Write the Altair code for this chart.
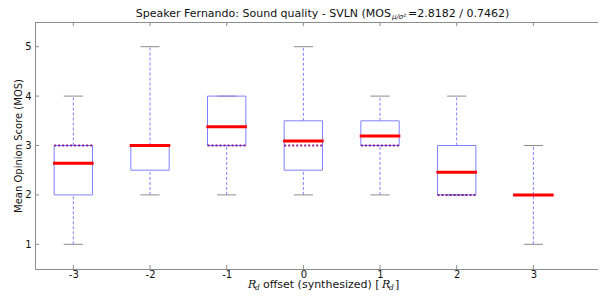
import altair as alt
import pandas as pd

# ---- data ----
offsets = [-3, -2, -1, 0, 1, 2, 3]
means = [2.64, 3.0, 3.38, 3.09, 3.19, 2.46, 2.0]
medians = [3, 3, 3, 3, 3, 2, 2]
q1 = [2, 2.5, 3, 2.5, 3, 2, 2]
q3 = [3, 3, 4, 3.5, 3.5, 3, 2]
whis_lo = [1, 2, 2, 2, 2, 2, 1]
whis_hi = [4, 5, 4, 5, 4, 4, 3]
x_ticks = [-3, -2, -1, 0, 1, 2, 3]
y_ticks = [1, 2, 3, 4, 5]

title_main = "Speaker Fernando: Sound quality - SVLN (MOS"
title_sub = "\u03bc/\u03c3\u00b2"
title_tail = " =2.8182 / 0.7462)"
y_title = "Mean Opinion Score (MOS)"

W, H = 563, 247
PAD = {"left": 27, "top": 14, "right": 0, "bottom": 21}
FONT = "DejaVu Sans"
SERIF = "DejaVu Serif"
BOX_BLUE = "#8080ff"
GRAY = "#8c8c8c"
TXT = "#111"

df = pd.DataFrame({
    "offset": offsets, "mean": means, "median": medians,
    "q1": q1, "q3": q3, "lo": whis_lo, "hi": whis_hi,
})
ticks_x = pd.DataFrame({"t": x_ticks})
ticks_y = pd.DataFrame({"t": y_ticks})
one = pd.DataFrame({"k": [0]})

xs = alt.Scale(domain=[-3.5, 3.843], nice=False, zero=False)
ys = alt.Scale(domain=[0.5, 5.5], nice=False, zero=False)

base = alt.Chart(df).transform_calculate(
    xl="datum.offset - 0.25", xr="datum.offset + 0.25",
    cl="datum.offset - 0.125", cr="datum.offset + 0.125",
    ml="datum.offset - 0.265", mr="datum.offset + 0.265",
)

x_enc = alt.X("offset:Q", scale=xs, axis=alt.Axis(
    values=x_ticks, labelExpr="'' + datum.value", grid=False, ticks=False, tickSize=0,
    domain=True, domainColor=GRAY, domainWidth=1,
    labelPadding=0, labelFont=FONT, labelFontSize=10, labelColor=TXT,
    title=None))
y_enc_axis = alt.Axis(
    values=y_ticks, labelExpr="'' + datum.value", grid=False, ticks=False, tickSize=0,
    domain=True, domainColor=GRAY, domainWidth=1,
    labelPadding=4, labelFont=FONT, labelFontSize=10, labelColor=TXT,
    title=y_title, titleFont=FONT, titleFontSize=10, titleFontWeight="normal",
    titleColor=TXT, titleAngle=-90, titleX=-17, titleY=H / 2,
    titleAlign="center", titleBaseline="middle")

whisk_hi = base.mark_rule(color=BOX_BLUE, strokeDash=[3, 2], strokeWidth=1).encode(
    x=x_enc, y=alt.Y("q3:Q", scale=ys, axis=y_enc_axis), y2="hi:Q")
whisk_lo = base.mark_rule(color=BOX_BLUE, strokeDash=[3, 2], strokeWidth=1).encode(
    x="offset:Q", y=alt.Y("lo:Q", scale=ys), y2="q1:Q")
cap_hi = base.mark_rule(color=GRAY, strokeWidth=1).encode(
    x=alt.X("cl:Q", scale=xs), x2="cr:Q", y=alt.Y("hi:Q", scale=ys))
cap_lo = base.mark_rule(color=GRAY, strokeWidth=1).encode(
    x=alt.X("cl:Q", scale=xs), x2="cr:Q", y=alt.Y("lo:Q", scale=ys))
box = base.mark_rect(fill=None, stroke=BOX_BLUE, strokeWidth=1).encode(
    x=alt.X("xl:Q", scale=xs), x2="xr:Q", y=alt.Y("q1:Q", scale=ys), y2="q3:Q")
med = base.mark_rule(color="#800080", strokeDash=[2, 2], strokeWidth=2, opacity=0.85).encode(
    x=alt.X("xl:Q", scale=xs), x2="xr:Q", y=alt.Y("median:Q", scale=ys))
mean = base.mark_rule(color="#ff0000", strokeWidth=3).encode(
    x=alt.X("ml:Q", scale=xs), x2="mr:Q", y=alt.Y("mean:Q", scale=ys))

# frame top edge and inward ticks (matplotlib style)
top_edge = alt.Chart(one).mark_rule(color=GRAY, strokeWidth=1).encode(
    x=alt.value(0), x2=alt.value(W), y=alt.value(0.5))
tick_b = alt.Chart(ticks_x).mark_rule(color=GRAY).encode(
    x=alt.X("t:Q", scale=xs), y=alt.value(H), y2=alt.value(H - 4))
tick_t = alt.Chart(ticks_x).mark_rule(color=GRAY).encode(
    x=alt.X("t:Q", scale=xs), y=alt.value(0), y2=alt.value(4))
tick_l = alt.Chart(ticks_y).mark_rule(color=GRAY).encode(
    y=alt.Y("t:Q", scale=ys), x=alt.value(0), x2=alt.value(4))


def label(text, x, y, size=11, font=FONT, style="normal", align="left"):
    return alt.Chart(one).mark_text(
        text=text, align=align, baseline="middle", font=font, fontSize=size,
        fontStyle=style, fontWeight="normal", color=TXT,
    ).encode(x=alt.value(x), y=alt.value(y))


# title: MOS with subscript
TX = 356
TY = -8
t1 = label(title_main, TX, TY, align="right")
t2 = label(title_sub, TX + 1, TY + 3, size=7, style="italic")
t3 = label(title_tail, TX + 17, TY)

# x-axis title: R_d offset (synthesized) [R_d]
XT = 213
XY = H + 16
xa = label("R", XT, XY, font=SERIF, style="italic")
xb = label("d", XT + 7, XY + 2.5, size=7.5, font=SERIF, style="italic")
xc = label("offset (synthesized) [", XT + 15, XY)
xd = label("R", XT + 134, XY, font=SERIF, style="italic")
xe = label("d", XT + 141, XY + 2.5, size=7.5, font=SERIF, style="italic")
xf = label("]", XT + 147, XY)

chart = alt.layer(
    whisk_hi, whisk_lo, cap_hi, cap_lo, box, med, mean,
    top_edge, tick_b, tick_t, tick_l,
    t1, t2, t3, xa, xb, xc, xd, xe, xf,
).properties(
    width=W, height=H,
    autosize=alt.AutoSizeParams(type="none"),
    padding=PAD,
).configure_view(strokeWidth=0, stroke=None).configure(background="white")

chart.save("out.html", embed_options={"renderer": "svg", "actions": False})
